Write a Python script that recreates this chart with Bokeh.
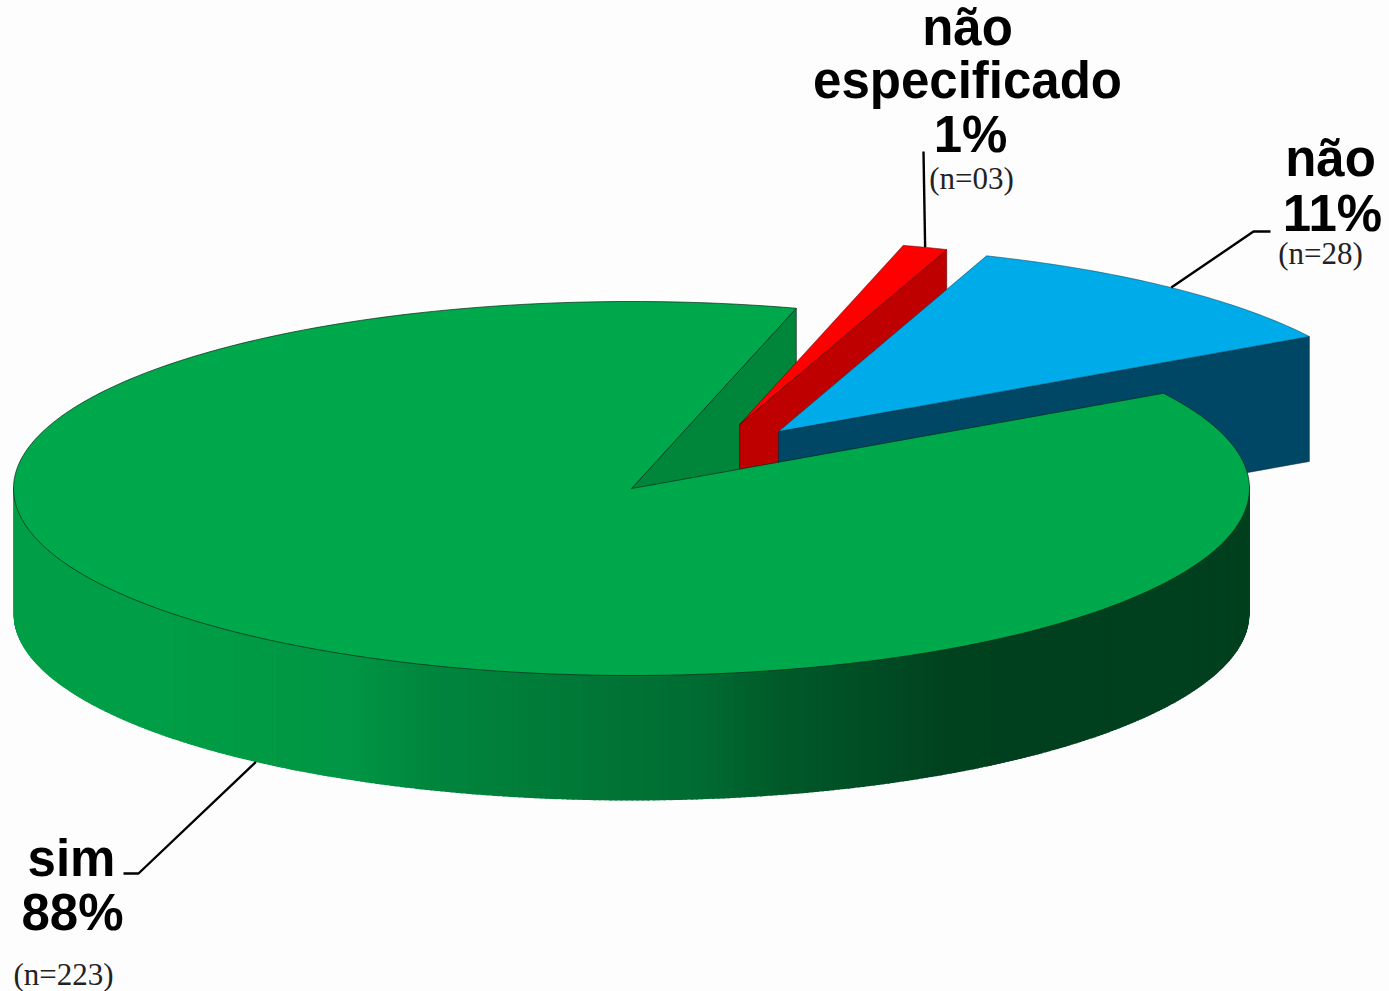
import numpy as np
from bokeh.plotting import figure
from bokeh.models import Range1d
from bokeh.core.properties import value
from bokeh.embed import file_html
from bokeh.resources import INLINE

# ---- data ----
categories = ["sim", "não", "não especificado"]
counts = [223, 28, 3]
shares = [88, 11, 1]

# ---- geometry (reference pixels) ----
CX, CY, RX, RY, DEPTH = 631.0, 488.0, 618.0, 187.0, 125.0
BLUE_START = 30.6
OFFSET = {"não": (147.0, -57.0), "não especificado": (108.0, -64.0), "sim": (0.0, 0.0)}
SCALE = {"não": 0.998, "não especificado": 0.994, "sim": 1.0}
TOP = {"sim": "#00a84c", "não": "#00abe9", "não especificado": "#fe0000"}
WALL = {"sim": "#00863a", "não": "#004766", "não especificado": "#bf0000"}
GRAD_X = [13, 170, 300, 350, 430, 520, 640, 700, 780, 850, 950, 1030, 1249]
GRAD_C = [(0,160,72), (0,158,70), (0,152,68), (0,150,70), (0,134,62), (0,126,58), (0,114,52),
          (0,108,50), (0,90,42), (0,80,38), (0,66,30), (0,64,30), (0,64,30)]

total = sum(counts)
ang = {}
a = BLUE_START
for name in ["não", "não especificado", "sim"]:
    sweep = 360.0 * counts[categories.index(name)] / total
    ang[name] = (a, a + sweep)
    a += sweep


def rim(name, deg, drop=0.0):
    dx, dy = OFFSET[name]
    r = np.radians(deg)
    k = SCALE[name]
    return CX + dx + k * RX * np.cos(r), CY + dy - k * RY * np.sin(r) + drop


def apex(name, drop=0.0):
    dx, dy = OFFSET[name]
    return CX + dx, CY + dy + drop


def wedge(name):
    t0, t1 = ang[name]
    th = np.linspace(t0, t1, 260 if name == "sim" else 50)
    pts = [rim(name, t) for t in th]
    ax, ay = apex(name)
    return [ax] + [q[0] for q in pts], [ay] + [q[1] for q in pts]


def inner_wall(name, deg):
    ax, ay = apex(name)
    rx0, ry0 = rim(name, deg)
    return [ax, rx0, rx0, ax], [ay, ry0, ry0 + DEPTH, ay + DEPTH]


p = figure(width=1389, height=991, output_backend="svg", toolbar_location=None,
           x_range=Range1d(0, 1389), y_range=Range1d(991, 0),
           x_axis_type=None, y_axis_type=None, min_border=0, outline_line_color=None,
           background_fill_color="#fdfdfd", border_fill_color="#fdfdfd")
p.grid.visible = False

EDGE = dict(line_color="#0a2a1a", line_width=0.9, line_alpha=0.8)

# inner wall of the large slice
xs, ys = inner_wall("sim", ang["sim"][0])
p.patch(xs, ys, fill_color=WALL["sim"], **EDGE)

# small slice
name = "não especificado"
xs, ys = inner_wall(name, ang[name][0])
p.patch(xs, ys, fill_color=WALL[name], line_color="#3a0000", line_width=0.8, line_alpha=0.6)
xs, ys = wedge(name)
p.patch(xs, ys, fill_color=TOP[name], line_color="#400000", line_width=0.8, line_alpha=0.6)

# blue slice
name = "não"
xs, ys = inner_wall(name, ang[name][0])
p.patch(xs, ys, fill_color=WALL[name], line_color="#00202e", line_width=0.8, line_alpha=0.6)
xs, ys = wedge(name)
p.patch(xs, ys, fill_color=TOP[name], line_color="#00303f", line_width=0.8, line_alpha=0.6)

# outer wall of the large slice: strips shaded left to right, each overlapping the next
th = np.radians(np.arange(180.0, 360.01, 0.5))
edges = CX + RX * np.cos(th)
sx, sy, sc = [], [], []
for x0, x1 in zip(edges[:-1], edges[1:]):
    x1b = min(x1 + 1.5, CX + RX)
    u0, ub = [(v - CX) / RX for v in (x0, x1b)]
    y0 = CY + RY * np.sqrt(max(0.0, 1 - u0 ** 2))
    y1 = CY + RY * np.sqrt(max(0.0, 1 - ub ** 2))
    sx.append([x0, x1b, x1b, x0])
    sy.append([y0 - 3, y1 - 3, y1 + DEPTH, y0 + DEPTH])
    mid_x = (x0 + x1) / 2
    rgb = [int(np.interp(mid_x, GRAD_X, [c[i] for c in GRAD_C])) for i in range(3)]
    sc.append("#%02x%02x%02x" % tuple(rgb))
p.patches(sx, sy, fill_color=sc, line_color=None)

# top of the large slice
xs, ys = wedge("sim")
p.patch(xs, ys, fill_color=TOP["sim"], **EDGE)

# leader lines, anchored at each slice's mid angle
mid = {k: sum(v) / 2 for k, v in ang.items()}
ax_, ay_ = rim("não", mid["não"])
p.line([ax_, 1253, 1270], [ay_, 231, 231], line_color="black", line_width=2.4)
ax_, ay_ = rim("não especificado", mid["não especificado"])
p.line([ax_, 923], [ay_, 151], line_color="black", line_width=2.4)
ax_, ay_ = rim("sim", mid["sim"], DEPTH)
p.line([ax_, 138, 123], [ay_, 873, 873], line_color="black", line_width=2.4)

BIG, SMALL = 51, 31
SHIFT = 0.35  # the svg text baseline sits this fraction of the size low


def bold(x, y, s):
    p.text([x], [y - SHIFT * BIG], text=[s], text_font=value("Liberation Sans"), text_font_style="bold",
           text_font_size=f"{BIG}px", text_align="center", text_baseline="alphabetic", text_color="black")


def small(x, y, s):
    p.text([x], [y - SHIFT * SMALL], text=[s], text_font=value("Liberation Serif"), text_font_size=f"{SMALL}px",
           text_align="center", text_baseline="alphabetic", text_color="#222222")


w1, w2 = categories[2].split(" ")
bold(967, 45, w1)
bold(967, 98, w2)
bold(970, 152, f"{shares[2]}%")
small(971, 189, f"(n={counts[2]:02d})")

bold(1330, 176, categories[1])
bold(1332, 231, f"{shares[1]}%")
small(1320, 264, f"(n={counts[1]})")

bold(71, 876, categories[0])
bold(72, 930, f"{shares[0]}%")
small(63, 985, f"(n={counts[0]})")

open("out.html", "w").write(file_html(p, INLINE))
